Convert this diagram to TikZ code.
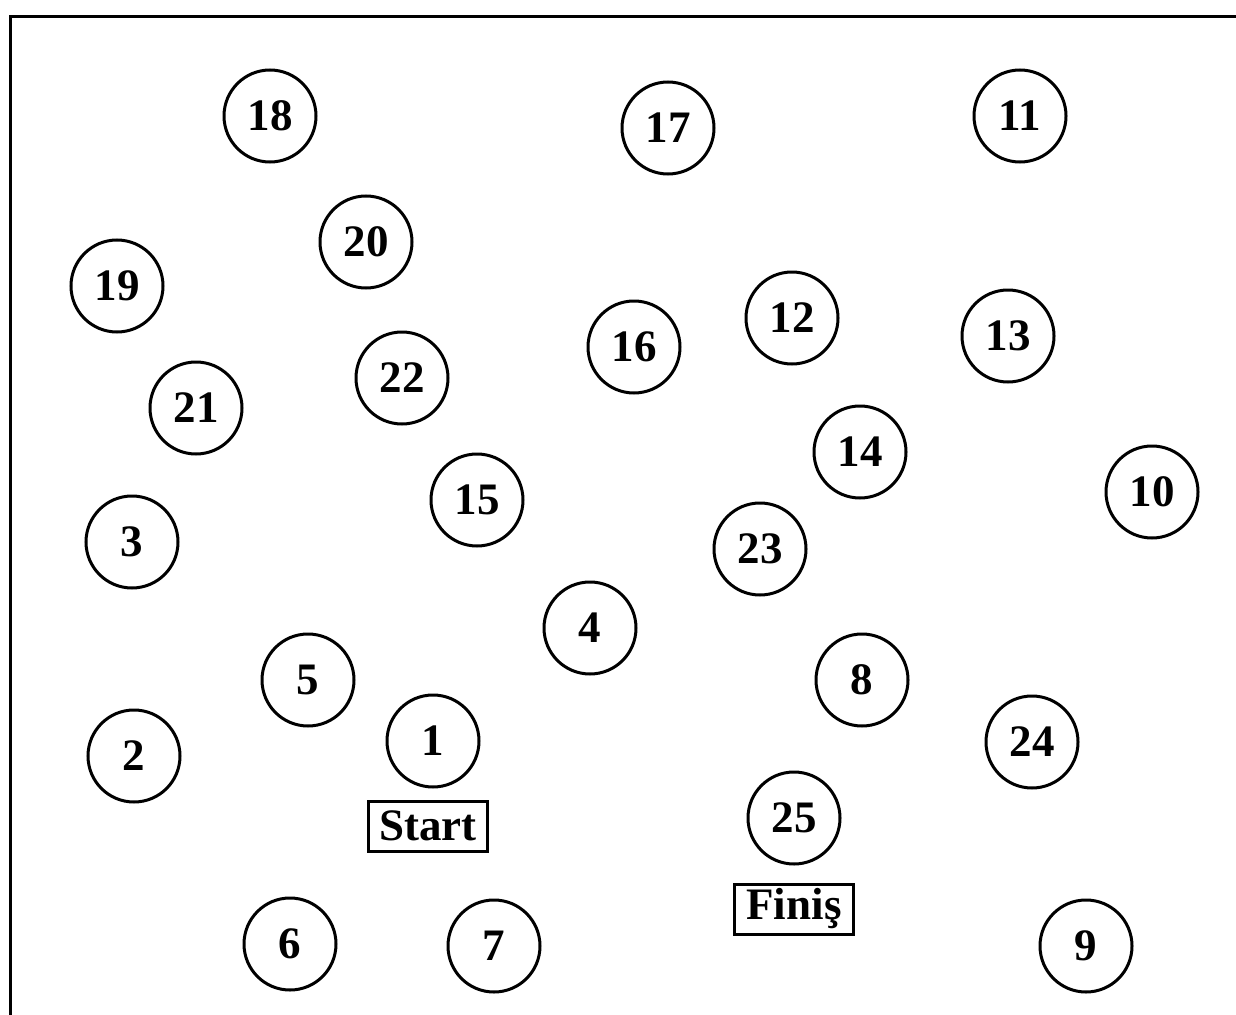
\documentclass[tikz,border=0pt]{standalone}
\usepackage{fontspec}
\setmainfont{Liberation Serif}
\usetikzlibrary{positioning}

\begin{document}
\begin{tikzpicture}[
    x=1pt,y=-1pt,
    dot/.style={circle,draw,line width=3pt,minimum size=92pt,inner sep=0pt,font=\fontsize{45}{45}\selectfont\bfseries},
    tag/.style={rectangle,draw,line width=3pt,minimum width=119pt,minimum height=50pt,inner sep=0pt,font=\fontsize{45}{45}\selectfont\bfseries}
]
    \clip (0,0) rectangle (1236,1014);
    \useasboundingbox (0,0) rectangle (1236,1014);
    \draw[line width=3pt] (10,17) rectangle (1260,1040);

    \node[dot] (c18) at (270,116) {18};
    \node[dot] (c17) at (668,128) {17};
    \node[dot] (c11) at (1020,116) {11};
    \node[dot] (c20) at (366,242) {20};
    \node[dot] (c19) at (117,286) {19};
    \node[dot] (c12) at (792,318) {12};
    \node[dot] (c16) at (634,347) {16};
    \node[dot] (c13) at (1008,336) {13};
    \node[dot] (c22) at (402,378) {22};
    \node[dot] (c21) at (196,408) {21};
    \node[dot] (c14) at (860,452) {14};
    \node[dot] (c10) at (1152,492) {10};
    \node[dot] (c15) at (477,500) {15};
    \node[dot] (c23) at (760,549) {23};
    \node[dot] (c3) at (132,542) {3};
    \node[dot] (c4) at (590,628) {4};
    \node[dot] (c5) at (308,680) {5};
    \node[dot] (c8) at (862,680) {8};
    \node[dot] (c1) at (433,741) {1};
    \node[dot] (c2) at (134,756) {2};
    \node[dot] (c24) at (1032,742) {24};
    \node[dot] (c25) at (794,818) {25};
    \node[dot] (c6) at (290,944) {6};
    \node[dot] (c7) at (494,946) {7};
    \node[dot] (c9) at (1086,946) {9};

    \node[tag] (start) at (428,826) {Start};
    \node[tag] (finis) at (794,909) {Finiş};
\end{tikzpicture}
\end{document}
